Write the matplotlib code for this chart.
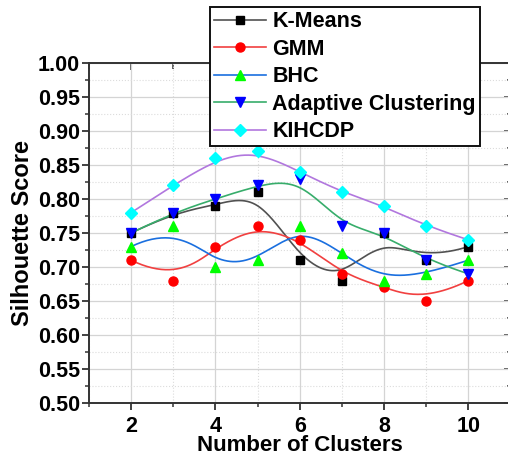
import numpy as np
import matplotlib
matplotlib.use("Agg")
import matplotlib.pyplot as plt
from matplotlib.lines import Line2D
from matplotlib.ticker import MultipleLocator

plt.rcParams['font.family'] = ['Liberation Sans', 'DejaVu Sans']
plt.rcParams['font.weight'] = 'bold'

# data
clusters = [2, 3, 4, 5, 6, 7, 8, 9, 10]
kmeans = [0.75, 0.78, 0.79, 0.81, 0.71, 0.68, 0.75, 0.71, 0.73]
gmm = [0.71, 0.68, 0.73, 0.76, 0.74, 0.69, 0.67, 0.65, 0.68]
bhc = [0.73, 0.76, 0.70, 0.71, 0.76, 0.72, 0.68, 0.69, 0.71]
adaptive = [0.75, 0.78, 0.80, 0.82, 0.83, 0.76, 0.75, 0.71, 0.69]
kihcdp = [0.78, 0.82, 0.86, 0.87, 0.84, 0.81, 0.79, 0.76, 0.74]
labels = ['K-Means', 'GMM', 'BHC', 'Adaptive Clustering', 'KIHCDP']

# (line colour, marker colour, marker, size)
styles = [('#515151', '#000000', 's', 5.5),
          ('#F14040', '#FF0000', 'o', 6.5),
          ('#1A6FDF', '#00FF00', '^', 7.5),
          ('#37AD6B', '#0000FF', 'v', 7.5),
          ('#B177DE', '#00FFFF', 'D', 5.8)]


def bspline(px, py, n=400, k=3):
    # clamped uniform cubic B-spline, data points used as control points
    px = np.asarray(px, float)
    py = np.asarray(py, float)
    m = len(px)
    knots = np.concatenate([np.zeros(k), np.arange(m - k + 1), np.full(k, m - k)]).astype(float)
    t = np.linspace(0, m - k, n)
    N = np.zeros((len(knots) - 1, n))
    for i in range(len(knots) - 1):
        N[i] = (knots[i] <= t) & (t < knots[i + 1])
    N[m - 1, -1] = 1.0
    for d in range(1, k + 1):
        newN = np.zeros((len(knots) - 1 - d, n))
        for i in range(len(knots) - 1 - d):
            a = knots[i + d] - knots[i]
            b = knots[i + d + 1] - knots[i + 1]
            if a > 0:
                newN[i] += (t - knots[i]) / a * N[i]
            if b > 0:
                newN[i] += (knots[i + d + 1] - t) / b * N[i + 1]
        N = newN
    return N.T @ px, N.T @ py


fig = plt.figure(figsize=(5.08, 4.59), dpi=100)
ax = fig.add_axes([89 / 508, 1 - 403 / 459, 421.5 / 508, 340 / 459])

series = [kmeans, gmm, bhc, adaptive, kihcdp]
handles = []
for vals, (lc, mc, mk, ms), lab in zip(series, styles, labels):
    sx, sy = bspline(clusters, vals)
    ax.plot(sx, sy, color=lc, lw=1.2, zorder=2)
    ax.plot(clusters, vals, ls='none', marker=mk, ms=ms, color=mc,
            markeredgecolor=mc, zorder=3)
    handles.append(Line2D([], [], color=lc, lw=1.2, marker=mk, ms=ms,
                          markerfacecolor=mc, markeredgecolor=mc))

ax.set_xlim(1, 11)
ax.set_ylim(0.50, 1.00)
ax.set_xticks([2, 4, 6, 8, 10])
ax.xaxis.set_minor_locator(MultipleLocator(1))
ax.yaxis.set_major_locator(MultipleLocator(0.05))
ax.yaxis.set_minor_locator(MultipleLocator(0.025))
ax.yaxis.set_major_formatter(matplotlib.ticker.FormatStrFormatter('%.2f'))

ax.grid(which='major', color='#d4d4d4', lw=0.9, ls='-')
ax.grid(which='minor', color='#dcdcdc', lw=0.8, ls=':')
ax.set_axisbelow(True)

for s in ax.spines.values():
    s.set_color('#333333')
    s.set_linewidth(1.4)

ax.tick_params(which='major', direction='out', length=5, width=1.3,
               color='#333333', labelsize=15.5, pad=1.5)
ax.tick_params(which='minor', direction='out', length=3, width=1.1,
               color='#333333')
ax.tick_params(axis='x', which='major', pad=4)

top = ax.secondary_xaxis('top')
top.set_xticks([2, 4, 6, 8, 10])
top.xaxis.set_minor_locator(MultipleLocator(1))
top.tick_params(which='both', direction='in', labeltop=False, color='#333333', width=1.1)
top.tick_params(which='major', length=5)
top.tick_params(which='minor', length=4)
top.spines['top'].set_visible(False)

right = ax.secondary_yaxis('right')
right.yaxis.set_major_locator(MultipleLocator(0.05))
right.yaxis.set_minor_locator(MultipleLocator(0.025))
right.tick_params(which='both', direction='in', labelright=False, color='#333333', width=1.1)
right.tick_params(which='major', length=5)
right.tick_params(which='minor', length=3)
right.spines['right'].set_visible(False)

ax.set_xlabel('Number of Clusters', fontsize=16, fontweight='bold', labelpad=-1)
ax.set_ylabel('Silhouette Score', fontsize=17, fontweight='bold', labelpad=3)

leg = fig.legend(handles, labels, loc='upper left',
                 bbox_to_anchor=(210 / 508, 1 - 7 / 459), borderaxespad=0,
                 fancybox=False, framealpha=1, edgecolor='#111111',
                 prop={'size': 15.5, 'weight': 'bold'}, handlelength=2.4,
                 handletextpad=0.3, labelspacing=0.3, borderpad=0.2)
leg.get_frame().set_linewidth(1.4)

fig.savefig('out.png', dpi=100)
